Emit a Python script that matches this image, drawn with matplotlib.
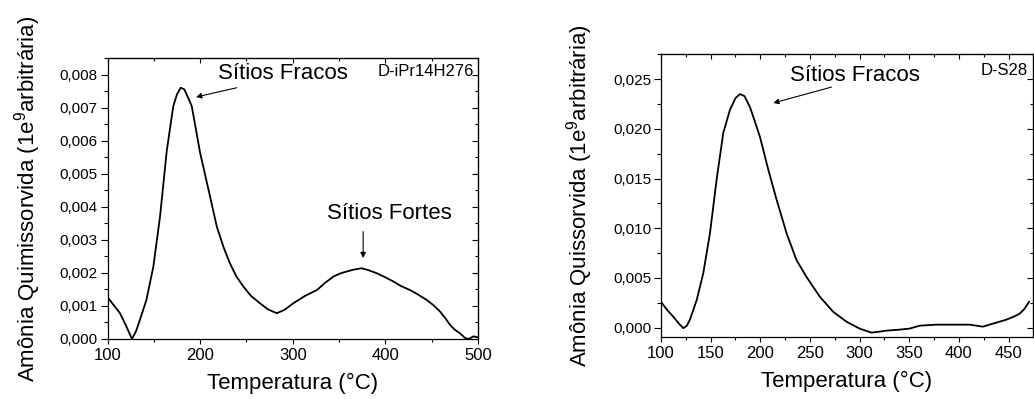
import matplotlib
matplotlib.use("Agg")
import matplotlib.pyplot as plt
from matplotlib.ticker import MultipleLocator, FuncFormatter, NullFormatter

plt.rcParams["font.family"] = ["Liberation Sans", "DejaVu Sans"]
plt.rcParams["mathtext.fontset"] = "custom"
plt.rcParams["mathtext.rm"] = "Liberation Sans"
plt.rcParams["mathtext.default"] = "regular"

# D-iPr14H276 TPD profile
temp_ipr = [100, 106, 113.5, 120, 126.5, 131, 135, 142, 149.5, 156.7, 164, 171, 175,
            179, 183, 187, 191, 200, 209, 218, 225, 232, 239, 246.6, 255, 264.7, 273,
            282.7, 291, 300.6, 313, 326, 335, 344, 351, 358, 366, 374.5, 382, 390.7,
            399, 408.6, 417, 426.7, 435, 444.7, 452, 459, 465, 470, 475, 480.7, 486,
            490, 495, 500]
nh3_ipr = [0.00127, 0.00105, 0.00078, 0.00040, 0.00000, 0.00025, 0.00058, 0.00118,
           0.00219, 0.00370, 0.00570, 0.00704, 0.00740, 0.00760, 0.00755, 0.00730,
           0.00704, 0.00563, 0.00452, 0.00340, 0.00280, 0.00230, 0.00190, 0.00159,
           0.00130, 0.00108, 0.00090, 0.00078, 0.00088, 0.00108, 0.00130, 0.00148,
           0.00170, 0.00189, 0.00198, 0.00204, 0.00210, 0.00214, 0.00208, 0.00199,
           0.00188, 0.00174, 0.00160, 0.00148, 0.00135, 0.00118, 0.00102, 0.00083,
           0.00062, 0.00042, 0.00028, 0.00017, 0.00003, 0.00000, 0.00008, 0.00005]

# D-S28 TPD profile
temp_s28 = [100, 106, 112.4, 118, 122.5, 126, 129, 136, 142.6, 149.3, 156, 162.7,
            169.4, 175, 179.5, 184, 189.5, 194, 199.6, 208, 216.3, 226.4, 236.4,
            246.5, 260, 273.3, 286.7, 300, 312, 320, 327, 340, 350, 360.5, 377, 394,
            411, 424, 434, 447.6, 455, 461, 466, 470.5]
nh3_s28 = [0.0026, 0.0018, 0.0011, 0.0004, -0.00005, 0.0002, 0.00077, 0.0028, 0.0055,
           0.0095, 0.0149, 0.0196, 0.0219, 0.0231, 0.0235, 0.0233, 0.0222, 0.0209,
           0.0192, 0.0159, 0.0129, 0.0095, 0.0068, 0.0051, 0.0031, 0.0016, 0.0006,
           -0.0001, -0.0005, -0.0004, -0.0003, -0.0002, -0.0001, 0.0002, 0.0003,
           0.0003, 0.0003, 0.0001, 0.0004, 0.0008, 0.0011, 0.0014, 0.0019, 0.0026]

xlabel = "Temperatura (°C)"
ylabel_ipr = "Amônia Quimissorvida (1e$^{9}$arbitrária)"
ylabel_s28 = "Amônia Quissorvida (1e$^{9}$arbitrária)"

W, H = 1034, 399
fig = plt.figure(figsize=(W / 100, H / 100), dpi=100)


def px_axes(x0, y0, x1, y1):
    return fig.add_axes([x0 / W, 1 - y1 / H, (x1 - x0) / W, (y1 - y0) / H])


comma = FuncFormatter(lambda v, p: f"{v:.3f}".replace(".", ","))


def style(ax, xmaj, xmin, ymaj, ymin):
    ax.xaxis.set_major_locator(MultipleLocator(xmaj))
    ax.xaxis.set_minor_locator(MultipleLocator(xmin))
    ax.yaxis.set_major_locator(MultipleLocator(ymaj))
    ax.yaxis.set_minor_locator(MultipleLocator(ymin))
    ax.yaxis.set_major_formatter(comma)
    for s in ax.spines.values():
        s.set_linewidth(0.9)
    ax.tick_params(axis="x", which="major", direction="out", length=3.3, width=0.8,
                   pad=3.5, labelsize=12)
    ax.tick_params(axis="x", which="minor", direction="out", length=2.2, width=0.8)
    ax.tick_params(axis="y", which="major", direction="out", length=5, width=0.8,
                   pad=2, labelsize=11)
    ax.tick_params(axis="y", which="minor", direction="out", length=3, width=0.8)
    top = ax.secondary_xaxis("top")
    top.xaxis.set_major_locator(MultipleLocator(xmaj))
    top.xaxis.set_minor_locator(MultipleLocator(xmin))
    top.xaxis.set_major_formatter(NullFormatter())
    top.tick_params(which="major", direction="in", length=3.3, width=0.8)
    top.tick_params(which="minor", direction="in", length=2.2, width=0.8)
    right = ax.secondary_yaxis("right")
    right.yaxis.set_major_locator(MultipleLocator(ymaj))
    right.yaxis.set_minor_locator(MultipleLocator(ymin))
    right.yaxis.set_major_formatter(NullFormatter())
    right.tick_params(which="major", direction="in", length=4, width=0.8)
    right.tick_params(which="minor", direction="in", length=2.5, width=0.8)


arrow = dict(arrowstyle="-|>", color="black", lw=0.8, mutation_scale=8,
             shrinkA=0, shrinkB=0)

# Left panel
ax1 = px_axes(107.5, 58, 478, 339)
ax1.plot(temp_ipr, nh3_ipr, color="black", lw=1.3)
ax1.set_xlim(100, 500)
ax1.set_ylim(0, 0.0085)
style(ax1, 100, 50, 0.001, 0.0005)
ax1.annotate("", xy=(195.6, 0.00732), xytext=(239.5, 0.0076), arrowprops=arrow)
ax1.text(289.5, 0.00803, "Sítios Fracos", fontsize=16, ha="center", va="center")
ax1.annotate("", xy=(376, 0.00245), xytext=(376, 0.00325), arrowprops=arrow)
ax1.text(404, 0.00381, "Sítios Fortes", fontsize=16, ha="center", va="center")
ax1.text(496, 0.0081, "D-iPr14H276", fontsize=12, ha="right", va="center")
ax1.set_xlabel(xlabel, fontsize=16, labelpad=7)
fig.text(28 / W, 1 - 198.5 / H, ylabel_ipr, fontsize=16, rotation=90,
         ha="center", va="center")

# Right panel
ax2 = px_axes(661, 54.3, 1033, 337)
ax2.plot(temp_s28, nh3_s28, color="black", lw=1.3)
ax2.set_xlim(100, 474.5)
ax2.set_ylim(-0.00094, 0.0275)
style(ax2, 50, 25, 0.005, 0.0025)
ax2.annotate("", xy=(213, 0.0226), xytext=(271.6, 0.0242), arrowprops=arrow)
ax2.text(295, 0.0254, "Sítios Fracos", fontsize=16, ha="center", va="center")
ax2.text(469.4, 0.0259, "D-S28", fontsize=12, ha="right", va="center")
ax2.set_xlabel(xlabel, fontsize=16, labelpad=7)
fig.text(580 / W, 1 - 196 / H, ylabel_s28, fontsize=16, rotation=90,
         ha="center", va="center")

fig.savefig("out.png", dpi=100)
